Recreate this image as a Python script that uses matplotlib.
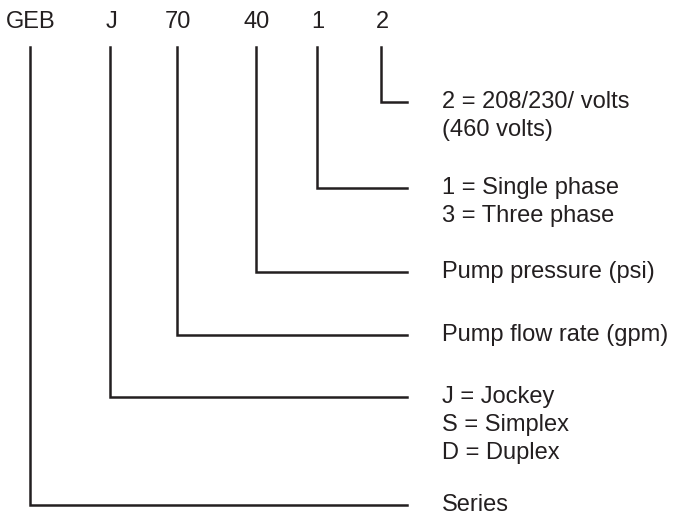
import matplotlib.pyplot as plt

# model code parts and their meanings
codes = ['GEB', 'J', '70', '40', '1', '2']
meanings = [
    ['Series'],
    ['J = Jockey', 'S = Simplex', 'D = Duplex'],
    ['Pump flow rate (gpm)'],
    ['Pump pressure (psi)'],
    ['1 = Single phase', '3 = Three phase'],
    ['2 = 208/230/ volts', '(460 volts)'],
]

# layout (pixels)
code_x = [30, 110, 177, 256, 317, 381]
elbow_y = [505, 397, 335, 272, 188, 102]
line_top = 47
line_end = 407
text_x = 442
line_gap = 28

plt.rcParams['font.family'] = ['Liberation Sans', 'DejaVu Sans']

fig = plt.figure(figsize=(6.74, 5.17), dpi=100)
ax = fig.add_axes([0, 0, 1, 1])
ax.set_xlim(0, 674)
ax.set_ylim(517, 0)
ax.axis('off')

for code, lines, x, y in zip(codes, meanings, code_x, elbow_y):
    ax.text(x + 1, 22, code, ha='center', va='center', fontsize=17, color='#231f20')
    ax.plot([x, x, line_end], [line_top, y, y], color='#231f20', lw=1.8,
            solid_joinstyle='miter')
    for i, s in enumerate(lines):
        ax.text(text_x, y + i * line_gap, s, ha='left', va='center',
                fontsize=17, color='#231f20')

fig.savefig('out.png', dpi=100)
